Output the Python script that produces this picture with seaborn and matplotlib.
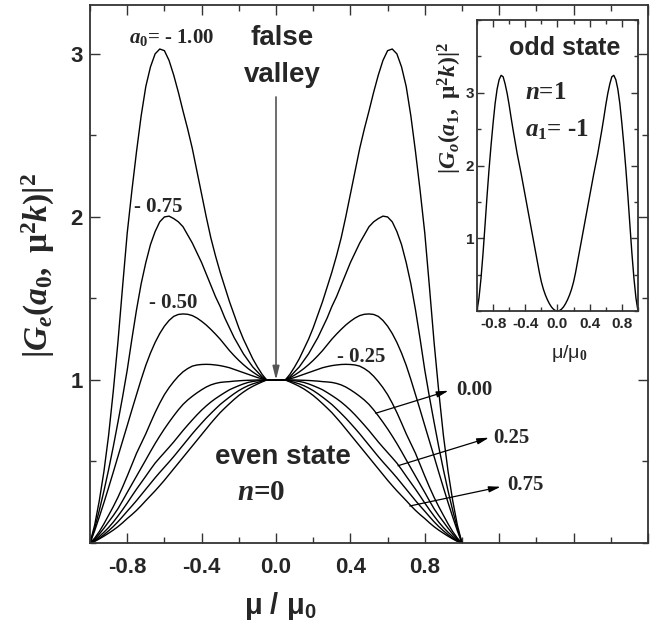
import numpy as np
import pandas as pd
import matplotlib
matplotlib.use("Agg")
import matplotlib.pyplot as plt
from matplotlib.ticker import MultipleLocator, FixedLocator
import seaborn as sns

# mu/mu0 grid for the half range 0..1 (all curves are symmetric about 0)
MU = [0.000, 0.025, 0.050, 0.075, 0.100, 0.125, 0.150, 0.175, 0.200, 0.225,
      0.250, 0.275, 0.300, 0.325, 0.350, 0.375, 0.400, 0.425, 0.450, 0.475,
      0.500, 0.525, 0.550, 0.575, 0.600, 0.625, 0.650, 0.675, 0.700, 0.725,
      0.750, 0.775, 0.800, 0.825, 0.850, 0.875, 0.900, 0.925, 0.950, 0.975,
      1.000]

# even state n=0, |G_e(a0, mu^2 k)|^2
A0 = [-1.00, -0.75, -0.50, -0.25, 0.00, 0.25, 0.50, 0.75]
G_M100 = [1.00, 1.00, 1.00, 1.035, 1.08, 1.13, 1.19, 1.25, 1.32, 1.40,
          1.48, 1.57, 1.66, 1.76, 1.87, 2.00, 2.14, 2.28, 2.42, 2.54,
          2.65, 2.765, 2.87, 2.96, 3.02, 3.03, 3.00, 2.92, 2.80, 2.62,
          2.40, 2.16, 1.90, 1.57, 1.23, 0.93, 0.66, 0.44, 0.26, 0.11, 0.00]
G_M075 = [1.00, 1.00, 1.00, 1.02, 1.05, 1.08, 1.12, 1.16, 1.21, 1.26,
          1.32, 1.38, 1.45, 1.51, 1.58, 1.65, 1.72, 1.78, 1.84, 1.89,
          1.94, 1.97, 1.99, 2.005, 2.00, 1.97, 1.91, 1.83, 1.72, 1.59,
          1.43, 1.25, 1.06, 0.895, 0.74, 0.59, 0.45, 0.32, 0.20, 0.09, 0.00]
G_M050 = [1.00, 1.00, 1.00, 1.013, 1.03, 1.049, 1.07, 1.094, 1.12, 1.149,
          1.18, 1.215, 1.25, 1.281, 1.31, 1.337, 1.36, 1.38, 1.395, 1.403,
          1.405, 1.402, 1.39, 1.365, 1.33, 1.285, 1.23, 1.165, 1.09, 1.003,
          0.91, 0.816, 0.72, 0.625, 0.53, 0.434, 0.34, 0.248, 0.16, 0.075, 0.00]
G_M025 = [1.00, 1.00, 1.00, 1.007, 1.015, 1.025, 1.035, 1.045, 1.055, 1.065,
          1.075, 1.082, 1.088, 1.092, 1.095, 1.096, 1.095, 1.092, 1.085, 1.07,
          1.05, 1.023, 0.99, 0.953, 0.91, 0.858, 0.80, 0.736, 0.67, 0.61,
          0.55, 0.48, 0.41, 0.343, 0.28, 0.223, 0.17, 0.118, 0.07, 0.03, 0.00]
G_P000 = [1.00, 1.00, 1.00, 1.00, 1.00, 0.999, 0.998, 0.997, 0.995, 0.993,
          0.99, 0.988, 0.985, 0.979, 0.97, 0.957, 0.94, 0.921, 0.90, 0.877,
          0.85, 0.817, 0.78, 0.741, 0.70, 0.656, 0.61, 0.561, 0.51, 0.46,
          0.41, 0.36, 0.31, 0.259, 0.21, 0.168, 0.13, 0.091, 0.055, 0.022, 0.00]
G_P025 = [1.00, 1.00, 1.00, 0.998, 0.995, 0.991, 0.985, 0.976, 0.965, 0.953,
          0.94, 0.923, 0.905, 0.886, 0.865, 0.841, 0.815, 0.786, 0.755, 0.723,
          0.69, 0.655, 0.62, 0.587, 0.555, 0.523, 0.49, 0.451, 0.41, 0.37,
          0.33, 0.288, 0.245, 0.204, 0.165, 0.128, 0.095, 0.066, 0.04, 0.015, 0.00]
G_P050 = [1.00, 1.00, 1.00, 0.993, 0.985, 0.976, 0.965, 0.951, 0.935, 0.916,
          0.895, 0.873, 0.85, 0.823, 0.795, 0.766, 0.735, 0.703, 0.67, 0.635,
          0.60, 0.565, 0.53, 0.497, 0.465, 0.433, 0.40, 0.365, 0.33, 0.295,
          0.26, 0.227, 0.195, 0.162, 0.13, 0.101, 0.075, 0.051, 0.03, 0.012, 0.00]
G_P075 = [1.00, 1.00, 1.00, 0.988, 0.975, 0.961, 0.945, 0.926, 0.905, 0.881,
          0.855, 0.828, 0.80, 0.768, 0.735, 0.70, 0.665, 0.63, 0.595, 0.56,
          0.525, 0.49, 0.455, 0.42, 0.385, 0.352, 0.32, 0.29, 0.26, 0.229,
          0.20, 0.174, 0.15, 0.124, 0.10, 0.079, 0.06, 0.042, 0.025, 0.01, 0.00]
EVEN = [G_M100, G_M075, G_M050, G_M025, G_P000, G_P025, G_P050, G_P075]

# odd state n=1, a1=-1 (inset)
G_ODD = [0.00, 0.006, 0.025, 0.056, 0.10, 0.155, 0.22, 0.30, 0.40, 0.53,
         0.68, 0.83, 0.98, 1.13, 1.28, 1.43, 1.58, 1.73, 1.88, 2.02,
         2.16, 2.32, 2.48, 2.65, 2.83, 2.99, 3.12, 3.22, 3.24, 3.18,
         3.05, 2.85, 2.58, 2.28, 1.95, 1.58, 1.18, 0.79, 0.45, 0.18, 0.00]

X_TICKS = [-0.8, -0.4, 0.0, 0.4, 0.8]
X_TICK_LABELS = ["-0.8", "-0.4", "0.0", "0.4", "0.8"]


def mirror(vals):
    v = np.asarray(vals, dtype=float)
    return np.concatenate([v[::-1], v[1:]])


MU_FULL = np.concatenate([-np.asarray(MU)[::-1], np.asarray(MU)[1:]])

df_even = pd.concat(
    [pd.DataFrame({"mu": MU_FULL, "G": mirror(g), "a0": a})
     for a, g in zip(A0, EVEN)], ignore_index=True)
df_odd = pd.DataFrame({"mu": MU_FULL, "G": mirror(G_ODD)})

sns.set_style("ticks")
plt.rcParams["font.family"] = ["Liberation Sans", "DejaVu Sans"]
plt.rcParams["font.weight"] = "bold"
plt.rcParams["mathtext.fontset"] = "custom"
plt.rcParams["mathtext.rm"] = "Liberation Serif:bold"
plt.rcParams["mathtext.it"] = "Liberation Serif:italic:bold"
plt.rcParams["mathtext.bf"] = "Liberation Serif:bold"
plt.rcParams["mathtext.sf"] = "Liberation Sans:bold"

EDGE = "#333333"
SERIF = dict(fontfamily="Liberation Serif", fontweight="bold")

fig = plt.figure(figsize=(6.56, 6.32), dpi=100)
ax = fig.add_axes([0.1372, 0.1408, 0.8506, 0.8513])

sns.lineplot(data=df_even, x="mu", y="G", units="a0", estimator=None,
             color="black", lw=1.0, ax=ax, legend=False)

ax.set_xlim(-1, 2)
ax.set_ylim(0, 3.3)
ax.set_xticks(np.arange(-0.8, 2.01, 0.4))
ax.set_xticklabels(X_TICK_LABELS + [""] * 3)
ax.xaxis.set_minor_locator(MultipleLocator(0.2))
ax.yaxis.set_major_locator(FixedLocator([1, 2, 3]))
ax.yaxis.set_minor_locator(MultipleLocator(0.5))
ax.set_yticklabels(["1", "2", "3"])
ax.tick_params(which="both", direction="in", top=True, right=True,
               color=EDGE, width=1.0)
ax.tick_params(which="major", length=7)
ax.tick_params(which="minor", length=4)
ax.tick_params(axis="x", labelsize=16, pad=10)
ax.tick_params(axis="y", labelsize=16, pad=5)
for s in ax.spines.values():
    s.set_color(EDGE)
    s.set_linewidth(1.3)
ax.set_xlabel("")
ax.set_ylabel("")

fig.text(38 / 656, 1 - 266 / 632, r"$|G_e(a_0,\ \mathrm{\mu}^2k)|^2$",
         rotation=90, ha="center", va="center", fontsize=24)
fig.text(280 / 656, 1 - 606 / 632, r"μ / μ$_\mathsf{0}$",
         ha="center", va="center", fontsize=21, fontweight="bold")

# curve labels
ax.text(-0.790, 3.098, r"$a_0$= - 1.00", ha="left", va="center",
        fontsize=15, **SERIF)
ax.text(-0.763, 2.06, "- 0.75", ha="left", va="center", fontsize=15, **SERIF)
ax.text(-0.683, 1.472, "- 0.50", ha="left", va="center", fontsize=15, **SERIF)
ax.text(0.328, 1.141, "- 0.25", ha="left", va="center", fontsize=15, **SERIF)

arrow = dict(arrowstyle="-|>,head_length=0.7,head_width=0.18", color="black",
             lw=0.9, shrinkA=0, shrinkB=0)
for lab, tail, tip, pos in [("0.00", (0.536, 0.796), (0.927, 0.934), (0.968, 0.939)),
                            ("0.25", (0.656, 0.474), (1.145, 0.646), (1.167, 0.644)),
                            ("0.75", (0.719, 0.227), (1.208, 0.345), (1.242, 0.356))]:
    ax.annotate("", xy=tip, xytext=tail, arrowprops=arrow)
    ax.text(pos[0], pos[1], lab, ha="left", va="center", fontsize=15, **SERIF)

ax.text(0.032, 3.098, "false", ha="center", va="center", fontsize=20)
ax.text(0.032, 2.871, "valley", ha="center", va="center", fontsize=20)
ax.annotate("", xy=(0.0, 1.0), xytext=(0.0, 2.736),
            arrowprops=dict(arrowstyle="-|>,head_length=0.8,head_width=0.2",
                            color="#555555", lw=1.2, shrinkA=0, shrinkB=0))
ax.text(0.038, 0.528, "even state", ha="center", va="center", fontsize=20)
ax.text(-0.08, 0.307, r"$n$=0", ha="center", va="center", fontsize=21, **SERIF)

# inset: odd state
axi = fig.add_axes([0.7271, 0.5079, 0.2454, 0.4604])
sns.lineplot(data=df_odd, x="mu", y="G", estimator=None, color="black",
             lw=1.0, ax=axi, legend=False)
axi.set_xlim(-1, 1)
axi.set_ylim(0, 4)
axi.set_xticks(X_TICKS)
axi.set_xticklabels(X_TICK_LABELS)
axi.xaxis.set_minor_locator(MultipleLocator(0.2))
axi.yaxis.set_major_locator(FixedLocator([1, 2, 3]))
axi.yaxis.set_minor_locator(MultipleLocator(0.5))
axi.set_yticklabels(["1", "2", "3"])
axi.tick_params(which="both", direction="in", top=True, right=True,
                color=EDGE, width=1.0)
axi.tick_params(which="major", length=5)
axi.tick_params(which="minor", length=3)
axi.tick_params(axis="x", labelsize=11, pad=4)
axi.tick_params(axis="y", labelsize=11, pad=2)
for s in axi.spines.values():
    s.set_color(EDGE)
    s.set_linewidth(1.3)
axi.set_xlabel("")
axi.set_ylabel("")

axi.text(0.085, 3.616, "odd state", ha="center", va="center", fontsize=18)
axi.text(-0.40, 3.0, r"$n$=1", ha="left", va="center", fontsize=18, **SERIF)
axi.text(-0.40, 2.49, r"$a_1$= -1", ha="left", va="center", fontsize=18, **SERIF)
fig.text(450 / 656, 1 - 108 / 632, r"$|G_o(a_1,\ \mathrm{\mu}^2k)|^2$",
         rotation=90, ha="center", va="center", fontsize=17)
fig.text(569 / 656, 1 - 353 / 632, r"μ/μ$_\mathrm{0}$", ha="center",
         va="center", fontsize=14, fontweight="normal")

fig.savefig("out.png", dpi=100)
